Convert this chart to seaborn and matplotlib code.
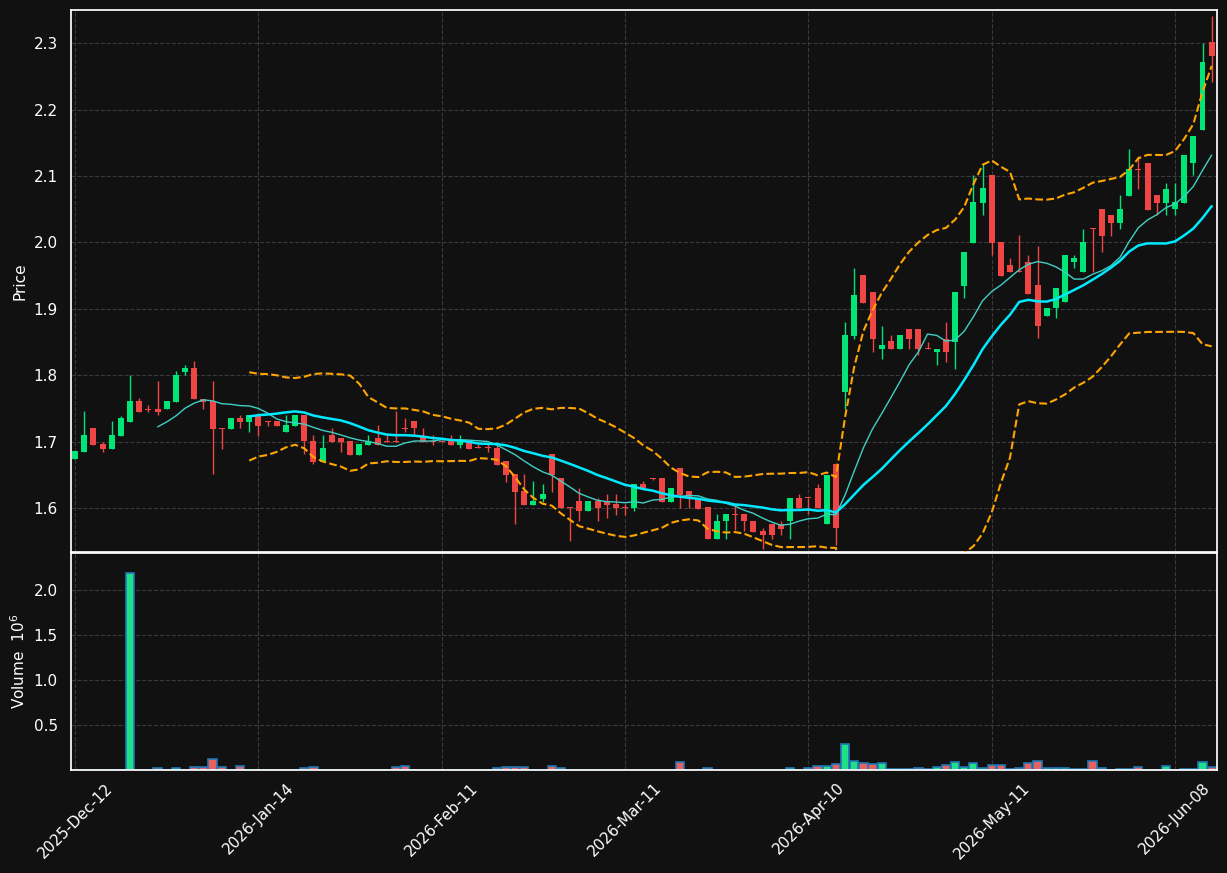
import numpy as np
import pandas as pd
import matplotlib
matplotlib.use("Agg")
import matplotlib.pyplot as plt
import seaborn as sns

# ------------------------------------------------------------
# data
# ------------------------------------------------------------
holidays = ["2025-12-25", "2025-12-26", "2026-01-01", "2026-04-03", "2026-04-06", "2026-05-01"]
dates = pd.bdate_range("2025-12-12", "2026-06-12")
dates = dates[~dates.isin(pd.to_datetime(holidays))]

opens = [1.674, 1.685, 1.720, 1.696, 1.689, 1.709, 1.730, 1.761, 1.750, 1.750,
         1.749, 1.760, 1.805, 1.811, 1.765, 1.761, 1.721, 1.719, 1.735, 1.730,
         1.740, 1.731, 1.731, 1.715, 1.724, 1.740, 1.701, 1.670, 1.710, 1.705,
         1.701, 1.680, 1.695, 1.705, 1.701, 1.701, 1.720, 1.731, 1.707, 1.701,
         1.701, 1.701, 1.695, 1.700, 1.691, 1.691, 1.691, 1.671, 1.651, 1.626,
         1.605, 1.614, 1.681, 1.645, 1.601, 1.611, 1.595, 1.611, 1.611, 1.606,
         1.601, 1.600, 1.636, 1.645, 1.645, 1.610, 1.660, 1.626, 1.615, 1.601,
         1.553, 1.580, 1.591, 1.591, 1.580, 1.565, 1.576, 1.576, 1.580, 1.615,
         1.616, 1.630, 1.576, 1.666, 1.775, 1.859, 1.951, 1.926, 1.839, 1.851,
         1.839, 1.870, 1.870, 1.841, 1.835, 1.855, 1.850, 1.934, 1.999, 2.060,
         2.101, 2.000, 1.966, 1.956, 1.970, 1.936, 1.889, 1.901, 1.910, 1.970,
         1.955, 2.021, 2.051, 2.041, 2.030, 2.070, 2.110, 2.120, 2.071, 2.060,
         2.050, 2.060, 2.120, 2.170, 2.302]
highs = [1.686, 1.746, 1.720, 1.700, 1.731, 1.739, 1.800, 1.766, 1.755, 1.791,
         1.761, 1.806, 1.815, 1.821, 1.765, 1.791, 1.721, 1.735, 1.740, 1.740,
         1.740, 1.731, 1.731, 1.740, 1.740, 1.740, 1.710, 1.710, 1.720, 1.705,
         1.701, 1.696, 1.710, 1.725, 1.711, 1.746, 1.735, 1.731, 1.720, 1.710,
         1.701, 1.710, 1.710, 1.700, 1.697, 1.697, 1.700, 1.671, 1.651, 1.651,
         1.641, 1.636, 1.681, 1.645, 1.601, 1.630, 1.611, 1.615, 1.622, 1.621,
         1.607, 1.636, 1.641, 1.645, 1.645, 1.630, 1.660, 1.626, 1.615, 1.601,
         1.591, 1.591, 1.605, 1.591, 1.580, 1.570, 1.576, 1.580, 1.615, 1.621,
         1.616, 1.636, 1.650, 1.668, 1.880, 1.961, 1.951, 1.926, 1.875, 1.860,
         1.860, 1.870, 1.870, 1.850, 1.840, 1.880, 1.926, 1.986, 2.101, 2.120,
         2.101, 2.000, 1.976, 2.011, 1.981, 1.995, 1.901, 1.932, 1.981, 1.981,
         2.021, 2.022, 2.051, 2.041, 2.071, 2.140, 2.130, 2.120, 2.071, 2.090,
         2.090, 2.131, 2.161, 2.301, 2.341]
lows = [1.674, 1.684, 1.695, 1.685, 1.689, 1.709, 1.730, 1.745, 1.745, 1.740,
        1.749, 1.760, 1.800, 1.765, 1.750, 1.651, 1.689, 1.719, 1.720, 1.715,
        1.708, 1.724, 1.723, 1.715, 1.724, 1.681, 1.666, 1.670, 1.700, 1.685,
        1.680, 1.680, 1.695, 1.695, 1.700, 1.700, 1.715, 1.710, 1.700, 1.695,
        1.700, 1.695, 1.690, 1.689, 1.690, 1.685, 1.665, 1.640, 1.576, 1.605,
        1.605, 1.610, 1.625, 1.600, 1.550, 1.580, 1.595, 1.580, 1.585, 1.590,
        1.590, 1.595, 1.631, 1.643, 1.610, 1.610, 1.600, 1.600, 1.599, 1.553,
        1.553, 1.554, 1.567, 1.565, 1.564, 1.539, 1.554, 1.560, 1.554, 1.600,
        1.591, 1.600, 1.576, 1.545, 1.750, 1.855, 1.909, 1.835, 1.825, 1.839,
        1.839, 1.840, 1.830, 1.840, 1.815, 1.820, 1.810, 1.916, 1.999, 2.041,
        1.981, 1.950, 1.955, 1.955, 1.923, 1.856, 1.889, 1.886, 1.910, 1.961,
        1.955, 1.956, 1.985, 2.010, 2.021, 2.070, 2.081, 2.049, 2.041, 2.041,
        2.041, 2.060, 2.101, 2.170, 2.242]
closes = [1.686, 1.710, 1.695, 1.689, 1.710, 1.735, 1.761, 1.745, 1.748, 1.745,
          1.761, 1.800, 1.811, 1.765, 1.760, 1.719, 1.719, 1.735, 1.729, 1.740,
          1.723, 1.730, 1.723, 1.725, 1.740, 1.701, 1.670, 1.690, 1.700, 1.700,
          1.680, 1.696, 1.701, 1.695, 1.700, 1.700, 1.719, 1.720, 1.700, 1.700,
          1.700, 1.695, 1.701, 1.689, 1.690, 1.690, 1.665, 1.650, 1.625, 1.605,
          1.611, 1.621, 1.650, 1.600, 1.600, 1.595, 1.611, 1.600, 1.605, 1.600,
          1.600, 1.636, 1.631, 1.644, 1.610, 1.630, 1.620, 1.615, 1.599, 1.553,
          1.580, 1.591, 1.590, 1.580, 1.564, 1.559, 1.559, 1.568, 1.615, 1.600,
          1.615, 1.600, 1.650, 1.570, 1.860, 1.921, 1.909, 1.854, 1.845, 1.839,
          1.860, 1.854, 1.839, 1.840, 1.840, 1.835, 1.926, 1.986, 2.061, 2.082,
          1.999, 1.950, 1.955, 1.955, 1.923, 1.875, 1.901, 1.932, 1.981, 1.977,
          2.001, 2.020, 2.010, 2.030, 2.051, 2.111, 2.109, 2.049, 2.060, 2.081,
          2.061, 2.131, 2.161, 2.272, 2.281]
# volume in millions
volumes = [0.0, 0.005, 0.005, 0.0, 0.005, 0.0, 2.19, 0.005, 0.0, 0.019,
           0.005, 0.02, 0.005, 0.03, 0.03, 0.12, 0.03, 0.005, 0.04, 0.005,
           0.005, 0.005, 0.0, 0.005, 0.0, 0.02, 0.03, 0.005, 0.005, 0.005,
           0.005, 0.005, 0.0, 0.005, 0.0, 0.03, 0.04, 0.0, 0.005, 0.005,
           0.0, 0.0, 0.005, 0.0, 0.005, 0.005, 0.02, 0.03, 0.03, 0.03,
           0.005, 0.005, 0.04, 0.02, 0.005, 0.005, 0.0, 0.005, 0.005, 0.005,
           0.0, 0.005, 0.0, 0.0, 0.005, 0.0, 0.085, 0.0, 0.005, 0.02,
           0.005, 0.0, 0.0, 0.0, 0.005, 0.005, 0.0, 0.005, 0.02, 0.005,
           0.02, 0.04, 0.04, 0.063, 0.285, 0.104, 0.074, 0.063, 0.074, 0.015,
           0.01, 0.01, 0.026, 0.012, 0.037, 0.052, 0.093, 0.037, 0.081, 0.026,
           0.052, 0.052, 0.015, 0.026, 0.074, 0.096, 0.026, 0.026, 0.026, 0.007,
           0.015, 0.096, 0.026, 0.005, 0.012, 0.012, 0.037, 0.005, 0.005, 0.04,
           0.005, 0.012, 0.012, 0.085, 0.03]

df = pd.DataFrame({"open": opens, "high": highs, "low": lows,
                   "close": closes, "volume": volumes}, index=dates)
df["i"] = np.arange(len(df))
df["dir"] = np.where(df["close"] >= df["open"], "up", "down")

# indicators
df["ma10"] = df["close"].rolling(10).mean()
df["ma20"] = df["close"].rolling(20).mean()
sd = df["close"].rolling(20).std()
df["bb_up"] = df["ma20"] + 2 * sd
df["bb_lo"] = df["ma20"] - 2 * sd

# ------------------------------------------------------------
# style
# ------------------------------------------------------------
BG = "#111111"
UP = "#00e676"
DOWN = "#f04545"
sns.set_theme(style="dark", rc={
    "axes.facecolor": BG, "figure.facecolor": BG,
    "axes.edgecolor": "white", "text.color": "white",
    "axes.labelcolor": "white", "xtick.color": "white", "ytick.color": "white",
    "grid.color": "#3a3a3a", "grid.linestyle": "--", "grid.linewidth": 0.8,
})
plt.rcParams["font.family"] = ["DejaVu Sans"]

W, H = 1227, 873
fig = plt.figure(figsize=(W / 100, H / 100), dpi=100)
ax = fig.add_axes([71 / W, (H - 552) / H, 1146 / W, 542 / H])
axv = fig.add_axes([71 / W, (H - 770) / H, 1146 / W, 217 / H], sharex=ax)

# --- candles
cols = np.where(df["dir"] == "up", UP, DOWN)
body = np.maximum((df["close"] - df["open"]).abs(), 0.0015)
ax.vlines(df["i"], df["low"], df["high"], colors=cols, linewidth=1, zorder=2)
ax.bar(df["i"], body, bottom=np.minimum(df["open"], df["close"]),
       width=0.65, color=cols, linewidth=0, zorder=3)

# --- moving averages and bands
sns.lineplot(data=df, x="i", y="ma10", ax=ax, color="#40cfc4", lw=1.0, zorder=4)
sns.lineplot(data=df, x="i", y="ma20", ax=ax, color="#00eaff", lw=1.8, zorder=4)
sns.lineplot(data=df, x="i", y="bb_up", ax=ax, color="#ffa500", lw=1.5,
             linestyle="--", zorder=4)
sns.lineplot(data=df, x="i", y="bb_lo", ax=ax, color="#ffa500", lw=1.5,
             linestyle="--", zorder=4)

ax.set_ylim(1.534, 2.35)
ax.set_yticks([1.6, 1.7, 1.8, 1.9, 2.0, 2.1, 2.2, 2.3])
ax.set_ylabel("Price", fontsize=11)
ax.set_xlabel("")
ax.grid(True)
ax.tick_params(axis="x", labelbottom=False, length=0)
ax.tick_params(axis="y", labelsize=11)

# --- volume
sns.barplot(data=df, x="i", y="volume", hue="dir", palette={"up": "#00ff8c", "down": "#ff4a4a"},
            dodge=False, width=0.9, edgecolor="#1f77b4", linewidth=1.2,
            ax=axv, legend=False, native_scale=True)
axv.set_ylim(0, 2.41)
axv.set_yticks([0.5, 1.0, 1.5, 2.0])
axv.set_ylabel("Volume  $10^{6}$", fontsize=11)
axv.set_xlabel("")
axv.grid(True)
axv.tick_params(axis="y", labelsize=11)

tick_pos = list(range(0, len(df), 20))
axv.set_xticks(tick_pos)
axv.set_xticklabels([df.index[p].strftime("%Y-%b-%d") for p in tick_pos],
                    rotation=45, ha="center", fontsize=11)
axv.tick_params(axis="x", length=4)
axv.set_xlim(-0.45, len(df) - 0.42)

for a in (ax, axv):
    for s in a.spines.values():
        s.set_color("white")

fig.savefig("out.png", dpi=100, facecolor=BG)
